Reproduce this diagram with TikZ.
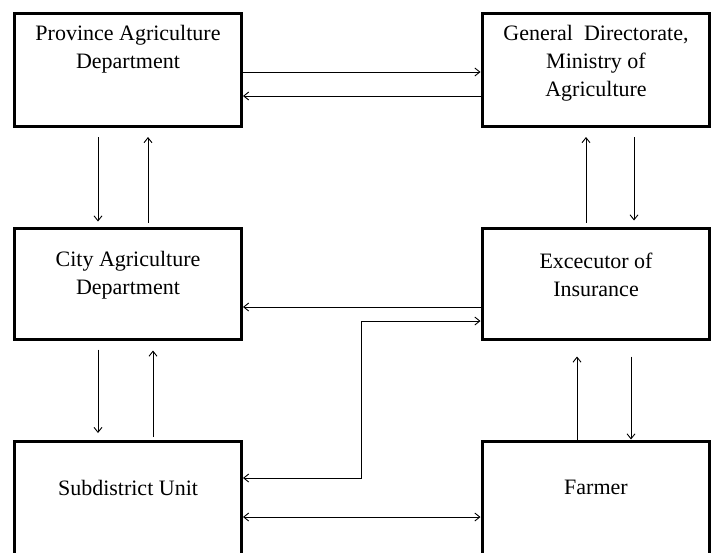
\documentclass[tikz,border=0pt]{standalone}
\usepackage{fontspec}
\setmainfont{Liberation Serif}
\usetikzlibrary{arrows.meta}
\begin{document}
\begin{tikzpicture}[x=1pt,y=-1pt,
 box/.style={draw, line width=3pt, minimum width=227pt, inner sep=0pt, outer sep=0pt},
 lbl/.style={align=center, font=\fontsize{22}{28}\selectfont, inner sep=0pt},
 arr/.style={line width=0.9pt, -{Straight Barb[length=5pt,width=8pt]}},
 darr/.style={line width=0.9pt, {Straight Barb[length=5pt,width=8pt]}-{Straight Barb[length=5pt,width=8pt]}}]
\clip (0,0) rectangle (717,552);
\fill[white] (0,0) rectangle (717,552);
% boxes
\node[box, minimum height=113pt] (prov) at (128,69.5) {};
\node[box, minimum height=113pt] (gen) at (595.5,69.5) {};
\node[box, minimum height=111pt] (city) at (128,284) {};
\node[box, minimum height=111pt] (exec) at (595.5,284) {};
\node[box, minimum height=129pt] (sub) at (128,505.5) {};
\node[box, minimum height=129pt] (farm) at (595.5,505.5) {};
% labels
\node[lbl] (tprov) at (128,49) {Province Agriculture\\Department};
\node[lbl] (tgen) at (596,63) {General\ \ Directorate,\\Ministry of\\Agriculture};
\node[lbl] (tcity) at (128,275) {City Agriculture\\Department};
\node[lbl] (texec) at (596,275) {Excecutor of\\Insurance};
\node[lbl] (tsub) at (128,488) {Subdistrict Unit};
\node[lbl] (tfarm) at (596,487) {Farmer};
% helper coordinates
\coordinate (r72) at (0,72);
\coordinate (r96) at (0,96);
\coordinate (r307) at (0,307);
\coordinate (r517) at (0,517);
\coordinate (c98) at (98,0);
\coordinate (c148) at (148,0);
\coordinate (c153) at (153,0);
\coordinate (c586) at (586,0);
\coordinate (c634) at (634,0);
\coordinate (c577) at (577,0);
\coordinate (c631) at (631,0);
\coordinate (k1) at (361,478);
\coordinate (k2) at (361,321);
% horizontal connectors
\draw[arr, shorten >=1.5pt] (prov.east |- r72) -- (gen.west |- r72);
\draw[arr, shorten >=1.5pt] (gen.west |- r96) -- (prov.east |- r96);
\draw[arr, shorten >=1.5pt] (exec.west |- r307) -- (city.east |- r307);
\draw[darr, shorten >=1.5pt, shorten <=1.5pt] (sub.east |- k1) -- (k1) -- (k2) -- (exec.west |- k2);
\draw[darr, shorten >=1.5pt, shorten <=1.5pt] (sub.east |- r517) -- (farm.west |- r517);
% vertical connectors
\draw[arr, shorten <=11pt, shorten >=7pt] (prov.south -| c98) -- (city.north -| c98);
\draw[arr, shorten <=6pt, shorten >=11pt] (city.north -| c148) -- (prov.south -| c148);
\draw[arr, shorten <=10pt, shorten >=8pt] (city.south -| c98) -- (sub.north -| c98);
\draw[arr, shorten <=4pt, shorten >=11pt] (sub.north -| c153) -- (city.south -| c153);
\draw[arr, shorten <=6pt, shorten >=11pt] (exec.north -| c586) -- (gen.south -| c586);
\draw[arr, shorten <=11pt, shorten >=8pt] (gen.south -| c634) -- (exec.north -| c634);
\draw[arr, shorten <=1.5pt, shorten >=17pt] (farm.north -| c577) -- (exec.south -| c577);
\draw[arr, shorten <=17pt, shorten >=1.5pt] (exec.south -| c631) -- (farm.north -| c631);
\end{tikzpicture}
\end{document}
